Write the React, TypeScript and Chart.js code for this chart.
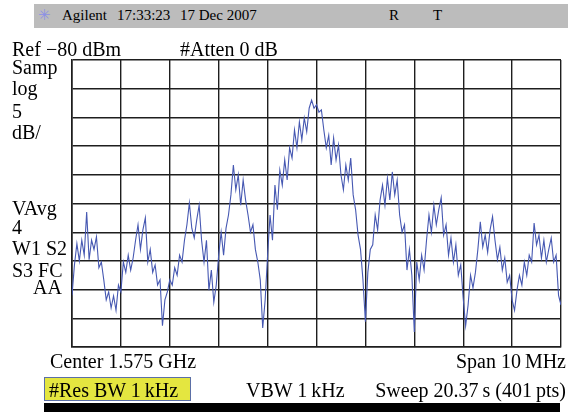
import React, { useEffect, useRef } from "react";
import { Chart, registerables } from "chart.js";

Chart.register(...registerables);

// Sweep: 401 points over 10 MHz span, sampled every 2nd point (index 0..400)
const sampleStep = 2;
const traceDbm: number[] = [
  -121, -115.7, -112, -115, -111.4, -114, -106.5, -114.8, -111.4, -113,
  -110.8, -116.2, -115.2, -118.3, -121.8, -120.4, -123.2, -121.1, -123.6, -119.2,
  -120.4, -115.2, -117, -114, -116.6, -114.5, -111.4, -108.7, -113, -109.6,
  -107.5, -115.2, -113, -117, -115.7, -119.2, -118.3, -126.3, -121.8, -120.4,
  -118.3, -119.2, -116.2, -117.5, -114, -115.2, -111.4, -108.7, -104.9, -109.3,
  -111, -107.9, -105.3, -111.4, -115.2, -111.4, -120.1, -116.6, -122.2, -119.2,
  -114, -110, -114, -109.3, -107, -103.5, -98.3, -102.6, -100, -105.3,
  -100.9, -104.4, -107, -110, -108.7, -113, -115.2, -118.3, -126.7, -121.8,
  -114, -107, -111.4, -101.8, -106.1, -99.2, -101.8, -97.4, -100.9, -95.3,
  -97.1, -92.2, -95.3, -90.8, -93.9, -90.1, -92.5, -88.4, -87, -88.4,
  -87.8, -89.1, -88.7, -92.2, -95.3, -93.1, -98.3, -93.6, -97.4, -94.8,
  -100, -102.6, -98.3, -100.9, -97.1, -103.5, -106.1, -110.5, -113, -118.3,
  -125.6, -117, -113, -112.2, -107, -109.6, -104.4, -101.8, -105.3, -100.6,
  -104.4, -99.5, -103.5, -100.9, -107, -110, -108.7, -116.6, -113, -117.5,
  -127.4, -115.2, -118.3, -114, -116.6, -111.4, -107, -110, -105.3, -108.7,
  -106.1, -104, -110.5, -108.7, -114, -111, -115.2, -112.2, -117.5, -115.7,
  -121.5, -126.3, -122.7, -117.5, -119.7, -117, -113, -108.2, -112.6, -110.5,
  -113.5, -109.6, -107.3, -111.4, -114.8, -112.6, -116.6, -114.5, -118.7, -117.5,
  -121.8, -123.6, -120.1, -117.5, -119.2, -115.2, -117.5, -114, -115.2, -108.4,
  -112.2, -110.5, -114.5, -111.4, -115.2, -113, -111, -115.2, -114, -121,
  -122.7,
];

const xMin = 0;
const xMax = 400;
const xStep = 40;
const refLevel = -80;
const dbPerDiv = 5;
const divisions = 10;

const headerItems = [
  { text: "Agilent", left: 62 },
  { text: "17:33:23", left: 117 },
  { text: "17 Dec 2007", left: 180 },
  { text: "R", left: 389 },
  { text: "T", left: 433 },
];

const sideLabels = [
  { text: "Samp", base: 74 },
  { text: "log", base: 95 },
  { text: "5", base: 118 },
  { text: "dB/", base: 139 },
  { text: "VAvg", base: 215 },
  { text: "4", base: 234 },
  { text: "W1 S2", base: 255 },
  { text: "S3 FC", base: 277 },
];

const FONT = '"Liberation Serif", "Times New Roman", serif';

function Txt(props: {
  text: string;
  left?: number;
  right?: number;
  base: number;
  size: number;
  color?: string;
  family?: string;
}) {
  const { text, left, right, base, size, color, family } = props;
  const top = base - size * 0.8375;
  const style: React.CSSProperties = {
    position: "absolute",
    top,
    fontFamily: family || FONT,
    fontSize: size,
    lineHeight: `${size}px`,
    color: color || "#000",
    whiteSpace: "pre",
  };
  if (left !== undefined) style.left = left;
  if (right !== undefined) style.right = right;
  return <div style={style}>{text}</div>;
}

export default function App() {
  const canvasRef = useRef<HTMLCanvasElement | null>(null);

  useEffect(() => {
    const canvas = canvasRef.current;
    if (!canvas) return;
    const points = traceDbm.map((v, i) => ({ x: i * sampleStep, y: v }));
    const gridColor = "#1e1e1e";
    const chart = new Chart(canvas, {
      type: "line",
      data: {
        datasets: [
          {
            data: points,
            borderColor: "#4658b2",
            borderWidth: 1.1,
            pointRadius: 0,
            tension: 0,
          },
        ],
      },
      options: {
        animation: false,
        responsive: false,
        maintainAspectRatio: false,
        layout: { padding: { left: 72, top: 60, right: 7, bottom: 65 } },
        plugins: { legend: { display: false }, tooltip: { enabled: false } },
        scales: {
          x: {
            type: "linear",
            min: xMin,
            max: xMax,
            ticks: { display: false, stepSize: xStep },
            grid: { color: gridColor, lineWidth: 1.4, drawTicks: false },
            border: { color: gridColor, width: 1.6 },
          },
          y: {
            type: "linear",
            min: refLevel - dbPerDiv * divisions,
            max: refLevel,
            ticks: { display: false, stepSize: dbPerDiv },
            grid: { color: gridColor, lineWidth: 1.4, drawTicks: false },
            border: { color: gridColor, width: 1.6 },
          },
        },
      },
    });
    return () => chart.destroy();
  }, []);

  return (
    <div
      style={{
        position: "absolute",
        left: 0,
        top: 0,
        width: 568,
        height: 412,
        background: "#fff",
        overflow: "hidden",
      }}
    >
      <div
        style={{
          position: "absolute",
          left: 34,
          top: 4,
          width: 534,
          height: 24,
          background: "#bcbcbc",
        }}
      />
      <Txt text={"\u2733"} left={38} base={21} size={15} color="#8c90e6" family='"DejaVu Sans", sans-serif' />
      {headerItems.map((h) => (
        <Txt key={h.text} text={h.text} left={h.left} base={21} size={15} />
      ))}
      <canvas ref={canvasRef} width={568} height={412} style={{ position: "absolute", left: 0, top: 0, width: 568, height: 412 }} />
      <Txt text={"Ref \u221280 dBm"} left={12} base={56} size={20} />
      <Txt text={"#Atten 0 dB"} left={180} base={56} size={20} />
      {sideLabels.map((s) => (
        <Txt key={s.text} text={s.text} left={12} base={s.base} size={20} />
      ))}
      <Txt text={"AA"} right={568 - 62} base={294} size={20} />
      <Txt text={"Center 1.575 GHz"} left={50} base={368} size={20} />
      <Txt text={"Span 10\u2009MHz"} right={2} base={368} size={20} />
      <div
        style={{
          position: "absolute",
          left: 44,
          top: 377,
          width: 145,
          height: 22,
          background: "#e4e640",
          border: "1px solid #5b6fa6",
        }}
      />
      <Txt text={"#Res BW 1\u2009kHz"} left={49} base={397} size={20} />
      <Txt text={"VBW 1\u2009kHz"} left={246} base={397} size={20} />
      <Txt text={"Sweep 20.37\u2009s (401\u2009pts)"} right={2} base={397} size={20} />
      <div style={{ position: "absolute", left: 44, top: 403, width: 516, height: 9, background: "#000" }} />
    </div>
  );
}
